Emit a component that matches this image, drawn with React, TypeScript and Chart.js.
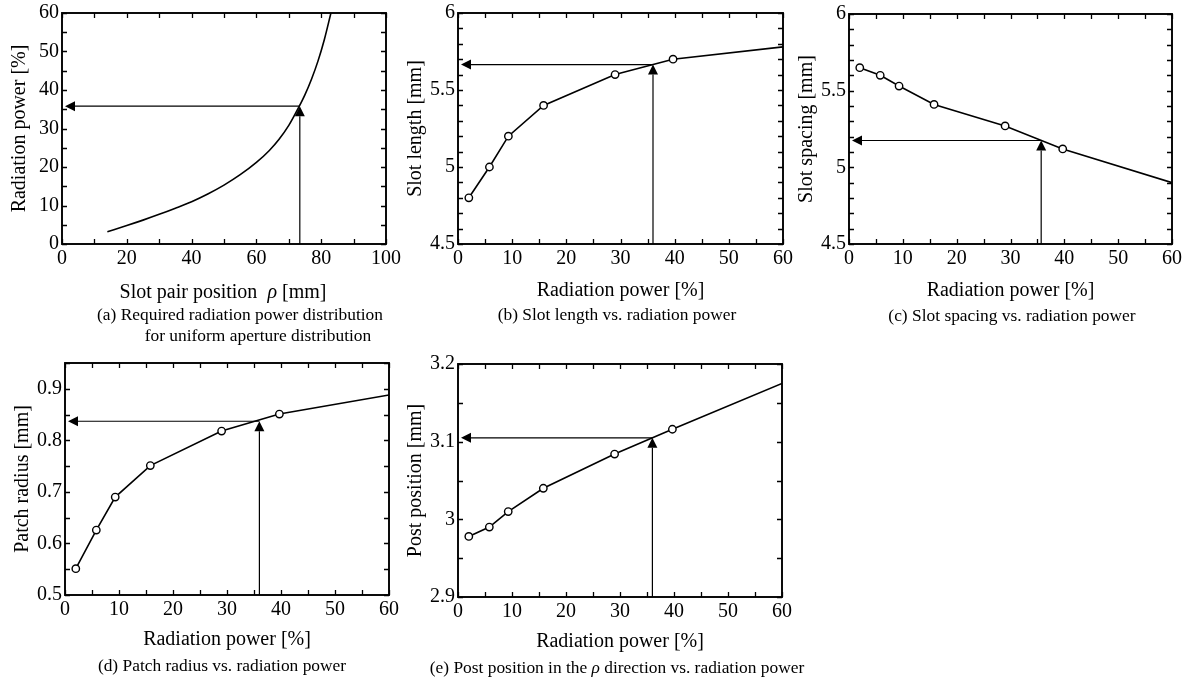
import React, { useEffect, useRef } from "react";
import { Chart, registerables } from "chart.js";

Chart.register(...registerables);
Chart.defaults.font.family = "'Liberation Serif', 'Times New Roman', serif";
Chart.defaults.color = "#000";

// ---------- data ----------
// (a) required radiation power vs slot pair position
const slotPairPosition = [14, 20, 25, 30, 35, 40, 45, 50, 55, 60, 64, 67, 70, 73, 75, 77, 79, 81, 83];
const requiredPower = [3.2, 4.8, 6.2, 7.7, 9.3, 11.0, 13.0, 15.3, 18.0, 21.2, 24.3, 27.2, 30.8, 35.4, 38.8, 42.8, 47.5, 53.2, 60];

// (b)-(e) design curves vs radiation power (last point = line end, no marker)
const radiationPower = [2, 5.8, 9.3, 15.8, 29, 39.7, 60];
const slotLength = [4.8, 5.0, 5.2, 5.4, 5.6, 5.7, 5.78];
const slotSpacing = [5.65, 5.6, 5.53, 5.41, 5.27, 5.12, 4.9];
const patchRadius = [0.551, 0.626, 0.69, 0.751, 0.818, 0.851, 0.888];
const postPosition = [2.978, 2.99, 3.01, 3.04, 3.084, 3.116, 3.175];

// design point read-out arrows [x, y]
const arrowA = [73.4, 35.8];
const arrowB = [36, 5.665];
const arrowC = [35.7, 5.175];
const arrowD = [36, 0.837];
const arrowE = [36, 3.105];

// axis ranges [min, max, step, labelEvery]
const axisA_x = [0, 100, 10, 20];
const axisA_y = [0, 60, 5, 10];
const axisPow_x = [0, 60, 5, 10];
const axisB_y = [4.5, 6, 0.1, 0.5];
const axisC_y = [4.5, 6, 0.1, 0.5];
const axisD_y = [0.5, 0.95, 0.05, 0.1];
const axisE_y = [2.9, 3.2, 0.05, 0.1];

// ---------- layout ----------
const Y_W = 60;
const PAD_TOP = 16;
const PAD_RIGHT = 18;
const TICK_FONT = 20;
const FONT = "'Liberation Serif', 'Times New Roman', serif";

type Spec = {
  xs: number[];
  ys: number[];
  markers: boolean;
  xAxis: number[];
  yAxis: number[];
  xTitle: string | null;
  yTitle: string;
  arrow: number[];
  area: { L: number; T: number; R: number; B: number };
  xH: number;
};

const isMult = (v: number, m: number) => Math.abs(v / m - Math.round(v / m)) < 1e-6;
const fmt = (v: number) => String(Math.round(v * 1000) / 1000);

function makePlugin(arrow: number[]) {
  return {
    id: "frameAndArrows",
    afterDatasetsDraw(chart: any) {
      const { ctx, chartArea: a, scales } = chart;
      const xs = scales.x;
      const ys = scales.y;
      ctx.save();
      // arrows
      const px = xs.getPixelForValue(arrow[0]);
      const py = ys.getPixelForValue(arrow[1]);
      const head = 10;
      const half = 5;
      ctx.strokeStyle = "#000";
      ctx.fillStyle = "#000";
      ctx.lineWidth = 1.2;
      ctx.beginPath();
      ctx.moveTo(px, a.bottom);
      ctx.lineTo(px, py + head);
      ctx.stroke();
      ctx.beginPath();
      ctx.moveTo(px, py);
      ctx.lineTo(px - half, py + head);
      ctx.lineTo(px + half, py + head);
      ctx.closePath();
      ctx.fill();
      const tipX = a.left + 3;
      ctx.beginPath();
      ctx.moveTo(px, py);
      ctx.lineTo(tipX + head, py);
      ctx.stroke();
      ctx.beginPath();
      ctx.moveTo(tipX, py);
      ctx.lineTo(tipX + head, py - half);
      ctx.lineTo(tipX + head, py + half);
      ctx.closePath();
      ctx.fill();
      // inward ticks on all four sides
      const tl = 5;
      ctx.lineWidth = 1.3;
      ctx.beginPath();
      for (const t of xs.ticks) {
        const x = Math.round(xs.getPixelForValue(t.value)) + 0.5;
        ctx.moveTo(x, a.bottom);
        ctx.lineTo(x, a.bottom - tl);
        ctx.moveTo(x, a.top);
        ctx.lineTo(x, a.top + tl);
      }
      for (const t of ys.ticks) {
        const y = Math.round(ys.getPixelForValue(t.value)) + 0.5;
        ctx.moveTo(a.left, y);
        ctx.lineTo(a.left + tl, y);
        ctx.moveTo(a.right, y);
        ctx.lineTo(a.right - tl, y);
      }
      ctx.stroke();
      // frame
      ctx.lineWidth = 1.9;
      ctx.strokeRect(a.left, a.top, a.right - a.left, a.bottom - a.top);
      ctx.restore();
    },
  };
}

function axisOptions(ax: number[], title: string | null, isX: boolean, xH: number) {
  const [min, max, step, every] = ax;
  return {
    type: "linear",
    min,
    max,
    afterFit: (s: any) => {
      if (isX) s.height = xH;
      else s.width = Y_W;
    },
    ticks: {
      stepSize: step,
      autoSkip: false,
      maxRotation: 0,
      padding: 3,
      color: "#000",
      font: { size: TICK_FONT },
      callback: (v: number) => (isMult(v, every) ? fmt(v) : ""),
    },
    grid: { display: true, drawOnChartArea: false, drawTicks: false },
    border: { display: false },
    title: {
      display: title !== null,
      text: title || "",
      color: "#000",
      font: { size: 20 },
      padding: isX ? { top: 0, bottom: 3 } : { top: 6, bottom: 0 },
    },
  };
}

function makeConfig(spec: Spec): any {
  const n = spec.xs.length;
  return {
    type: "line",
    data: {
      datasets: [
        {
          data: spec.xs.map((x, i) => ({ x, y: spec.ys[i] })),
          borderColor: "#000",
          borderWidth: 1.6,
          pointRadius: spec.markers ? spec.xs.map((_, i) => (i < n - 1 ? 3.7 : 0)) : 0,
          pointBackgroundColor: "#fff",
          pointBorderColor: "#000",
          pointBorderWidth: 1.4,
          fill: false,
          tension: 0,
          cubicInterpolationMode: spec.markers ? "default" : "monotone",
        },
      ],
    },
    options: {
      responsive: false,
      animation: false,
      events: [],
      layout: { padding: { top: PAD_TOP, right: PAD_RIGHT, left: 0, bottom: 0 } },
      plugins: { legend: { display: false }, tooltip: { enabled: false } },
      scales: {
        x: axisOptions(spec.xAxis, spec.xTitle, true, spec.xH),
        y: axisOptions(spec.yAxis, spec.yTitle, false, spec.xH),
      },
    },
    plugins: [makePlugin(spec.arrow)],
  };
}

function Panel({ spec }: { spec: Spec }) {
  const ref = useRef<HTMLCanvasElement>(null);
  useEffect(() => {
    const chart = new Chart(ref.current as HTMLCanvasElement, makeConfig(spec));
    return () => chart.destroy();
  }, []);
  const w = Y_W + (spec.area.R - spec.area.L) + PAD_RIGHT;
  const h = PAD_TOP + (spec.area.B - spec.area.T) + spec.xH;
  return (
    <canvas
      ref={ref}
      width={w}
      height={h}
      style={{ position: "absolute", left: spec.area.L - Y_W, top: spec.area.T - PAD_TOP, width: w, height: h }}
    />
  );
}

const specs: Spec[] = [
  {
    xs: slotPairPosition, ys: requiredPower, markers: false, xAxis: axisA_x, yAxis: axisA_y,
    xTitle: null, yTitle: "Radiation power [%]", arrow: arrowA,
    area: { L: 62, T: 13, R: 386, B: 244 }, xH: 62,
  },
  {
    xs: radiationPower, ys: slotLength, markers: true, xAxis: axisPow_x, yAxis: axisB_y,
    xTitle: "Radiation power [%]", yTitle: "Slot length [mm]", arrow: arrowB,
    area: { L: 458, T: 13, R: 783, B: 244 }, xH: 62,
  },
  {
    xs: radiationPower, ys: slotSpacing, markers: true, xAxis: axisPow_x, yAxis: axisC_y,
    xTitle: "Radiation power [%]", yTitle: "Slot spacing [mm]", arrow: arrowC,
    area: { L: 849, T: 14, R: 1172, B: 244 }, xH: 62,
  },
  {
    xs: radiationPower, ys: patchRadius, markers: true, xAxis: axisPow_x, yAxis: axisD_y,
    xTitle: "Radiation power [%]", yTitle: "Patch radius [mm]", arrow: arrowD,
    area: { L: 65, T: 363, R: 389, B: 595 }, xH: 60,
  },
  {
    xs: radiationPower, ys: postPosition, markers: true, xAxis: axisPow_x, yAxis: axisE_y,
    xTitle: "Radiation power [%]", yTitle: "Post position [mm]", arrow: arrowE,
    area: { L: 458, T: 364, R: 782, B: 597 }, xH: 60,
  },
];

const textStyle = (cx: number, cy: number, size: number, lh: number): React.CSSProperties => ({
  position: "absolute",
  left: cx - 250,
  top: cy - lh / 2,
  width: 500,
  textAlign: "center",
  fontFamily: FONT,
  fontSize: size,
  lineHeight: lh + "px",
  whiteSpace: "nowrap",
  color: "#000",
});
const capStyle = (cx: number, cy: number) => textStyle(cx, cy, 17.4, 20);

export default function App() {
  return (
    <div
      style={{
        position: "absolute",
        left: 0,
        top: 0,
        width: 1191,
        height: 682,
        overflow: "hidden",
        background: "#fff",
      }}
    >
      {specs.map((s, i) => (
        <Panel key={i} spec={s} />
      ))}
      <div style={textStyle(223, 291, 20, 24)}>
        Slot pair position&nbsp; <i>ρ</i> [mm]
      </div>
      <div style={capStyle(240, 314)}>(a) Required radiation power distribution</div>
      <div style={capStyle(258, 335)}>for uniform aperture distribution</div>
      <div style={capStyle(617, 314)}>(b) Slot length vs. radiation power</div>
      <div style={capStyle(1012, 315)}>(c) Slot spacing vs. radiation power</div>
      <div style={capStyle(222, 665)}>(d) Patch radius vs. radiation power</div>
      <div style={capStyle(617, 667)}>
        (e) Post position in the <i>ρ</i> direction vs. radiation power
      </div>
    </div>
  );
}
